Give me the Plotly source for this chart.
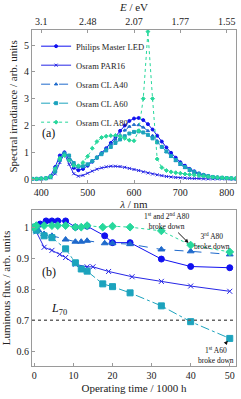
import plotly.graph_objects as go

# ---------------- data: spectra (top panel) ----------------
wavelength_nm = [380, 390, 400, 410, 420, 430, 440, 450, 460, 470, 480, 490, 500, 510, 520,
                 530, 540, 550, 560, 570, 580, 590, 600, 610, 620, 630, 640, 650, 660, 670,
                 680, 690, 700, 710, 720, 730, 740, 750, 760, 770, 780, 790, 800, 810, 820]

spec_philips = [0.01, 0.01, 0.02, 0.04, 0.12, 0.45, 0.88, 1.0, 0.72, 0.42, 0.33, 0.38, 0.5, 0.65, 0.8,
                0.97, 1.15, 1.35, 1.58, 1.8, 2.0, 2.17, 2.26, 2.28, 2.2, 2.05, 1.85, 1.62, 1.4, 1.18,
                0.98, 0.8, 0.63, 0.5, 0.38, 0.29, 0.21, 0.16, 0.12, 0.08, 0.06, 0.04, 0.03, 0.02, 0.02]
spec_par16 = [0.01, 0.01, 0.01, 0.02, 0.05, 0.2, 0.62, 0.95, 0.55, 0.2, 0.11, 0.14, 0.22, 0.3, 0.37,
              0.42, 0.46, 0.48, 0.48, 0.47, 0.44, 0.4, 0.36, 0.32, 0.27, 0.23, 0.19, 0.16, 0.13, 0.1,
              0.08, 0.06, 0.05, 0.04, 0.03, 0.02, 0.02, 0.01, 0.01, 0.01, 0.01, 0.01, 0.01, 0.01, 0.01]
spec_a40 = [0.01, 0.01, 0.02, 0.03, 0.08, 0.3, 0.75, 0.98, 0.86, 0.56, 0.45, 0.48, 0.55, 0.68, 0.82,
            0.98, 1.13, 1.3, 1.48, 1.65, 1.82, 1.96, 2.03, 2.02, 1.93, 1.8, 1.62, 1.42, 1.22, 1.02,
            0.84, 0.68, 0.54, 0.42, 0.32, 0.24, 0.18, 0.13, 0.1, 0.07, 0.05, 0.04, 0.03, 0.02, 0.02]
spec_a60 = [0.01, 0.01, 0.02, 0.03, 0.07, 0.28, 0.72, 0.95, 0.88, 0.6, 0.47, 0.48, 0.55, 0.67, 0.8,
            0.93, 1.07, 1.2, 1.35, 1.48, 1.6, 1.7, 1.76, 1.78, 1.74, 1.65, 1.52, 1.37, 1.2, 1.03,
            0.86, 0.71, 0.57, 0.45, 0.35, 0.27, 0.2, 0.15, 0.11, 0.08, 0.06, 0.05, 0.04, 0.03, 0.02]
spec_a80 = [0.01, 0.01, 0.02, 0.03, 0.1, 0.4, 0.78, 0.88, 0.7, 0.5, 0.5, 0.62, 0.85, 1.15, 1.4,
            1.55, 1.6, 1.62, 1.63, 1.6, 1.52, 1.45, 1.43, 1.8, 3.0, 5.5, 3.0, 0.75, 0.43, 0.32,
            0.27, 0.24, 0.22, 0.19, 0.17, 0.15, 0.13, 0.11, 0.09, 0.07, 0.06, 0.05, 0.04, 0.03, 0.03]

# top-axis photon energy labels for the wavelength ticks
wl_ticks = [400, 500, 600, 700, 800]
energy_labels = ["3.1", "2.48", "2.07", "1.77", "1.55"]

# ---------------- data: luminous flux (bottom panel) ----------------
t_philips = [0, 1.5, 3, 4.5, 6, 8, 10.5, 13.5, 18, 20, 24.5, 32.5, 40, 50]
flux_philips = [1.0, 1.01, 1.02, 1.02, 1.02, 1.02, 1.0, 1.003, 0.972, 0.95, 0.95, 0.897, 0.873, 0.869]

t_par16 = [0, 0.5, 2.5, 4.5, 6.5, 8, 10.5, 13.5, 15, 19, 25, 32.5, 40, 50]
flux_par16 = [1.0, 0.985, 0.935, 0.925, 0.912, 0.902, 0.88, 0.872, 0.872, 0.857, 0.84, 0.825, 0.81, 0.793]

t_a40 = [0, 1, 2.5, 4.5, 8, 10.5, 12, 13.5, 18, 20, 24.5, 32.5, 40, 50]
flux_a40 = [1.0, 0.99, 0.978, 0.972, 0.96, 0.953, 0.953, 0.956, 0.948, 0.948, 0.945, 0.928, 0.922, 0.912]

t_a60 = [0, 0.5, 2.5, 4.5, 8, 10.5, 12, 13.5, 17.5, 20, 24.5, 32.5, 40, 50]
flux_a60 = [1.0, 0.99, 0.972, 0.966, 0.93, 0.885, 0.865, 0.858, 0.817, 0.808, 0.788, 0.746, 0.695, 0.641]

t_a80 = [0, 0.5, 2.5, 4.5, 6, 8, 10.5, 12, 13.5, 17.5, 20, 24.5, 32.5, 40, 50]
flux_a80 = [1.0, 1.005, 1.005, 1.005, 1.005, 1.005, 1.0, 1.0, 1.005, 1.0, 1.003, 1.0, 0.988, 0.942, 0.92]

L70 = 0.7

# ---------------- styles ----------------
FONT = "Liberation Serif, Times New Roman, serif"
names = ["Philips Master LED", "Osram PAR16", "Osram CL A40", "Osram CL A60", "Osram CL A80"]
colors = ["#1010f0", "#2626e6", "#1f6acc", "#1ca3bd", "#26d89c"]
dashes = ["solid", "solid", "dash", "dashdot", "dot"]
symbols = ["circle", "x-thin-open", "triangle-up", "square", "diamond"]
spectra = [spec_philips, spec_par16, spec_a40, spec_a60, spec_a80]
flux_t = [t_philips, t_par16, t_a40, t_a60, t_a80]
flux_v = [flux_philips, flux_par16, flux_a40, flux_a60, flux_a80]

fig = go.Figure()

for i in range(5):
    fig.add_trace(go.Scatter(
        x=wavelength_nm, y=spectra[i], name=names[i], mode="lines+markers",
        line=dict(color=colors[i], width=1, dash=dashes[i]),
        marker=dict(symbol=symbols[i], size=3, color=colors[i],
                    line=dict(color=colors[i], width=1)),
        xaxis="x", yaxis="y", showlegend=True))

for i in range(5):
    fig.add_trace(go.Scatter(
        x=flux_t[i], y=flux_v[i], name=names[i], mode="lines+markers",
        line=dict(color=colors[i], width=1, dash=dashes[i]),
        marker=dict(symbol=symbols[i], size=6 if i != 1 else 5, color=colors[i],
                    line=dict(color=colors[i], width=1)),
        xaxis="x2", yaxis="y2", showlegend=False))

axis_common = dict(showgrid=False, zeroline=False, showline=True, linecolor="#9a9a9a",
                   linewidth=1, mirror=True, ticks="inside", ticklen=3, tickcolor="#9a9a9a",
                   tickfont=dict(family=FONT, size=10, color="#222"))

fig.update_layout(
    width=241, height=399,
    margin=dict(l=32, r=5, t=30, b=33),
    paper_bgcolor="white", plot_bgcolor="white",
    font=dict(family=FONT, size=10, color="#222"),
    xaxis=dict(domain=[0, 1], anchor="y", range=[380, 820], tickvals=wl_ticks,
               title=dict(text="<i>λ</i> / nm", font=dict(family=FONT, size=11), standoff=2),
               **axis_common),
    yaxis=dict(domain=[0.545, 1], anchor="x", range=[-0.14, 5.56], tickvals=[0, 1, 2, 3, 4, 5],
               title=dict(text="Spectral irradiance / arb. units", font=dict(family=FONT, size=11),
                          standoff=4),
               **axis_common),
    xaxis3=dict(overlaying="x", anchor="y", side="top", range=[380, 820], tickvals=wl_ticks,
                ticktext=energy_labels,
                title=dict(text="<i>E</i> / eV", font=dict(family=FONT, size=11), standoff=2),
                **{k: v for k, v in axis_common.items() if k != "mirror"}),
    xaxis2=dict(domain=[0, 1], anchor="y2", range=[-0.6, 51.6], tickvals=[0, 10, 20, 30, 40, 50],
                title=dict(text="Operating time / 1000 h", font=dict(family=FONT, size=11), standoff=4),
                **axis_common),
    yaxis2=dict(domain=[0, 0.464], anchor="x2", range=[0.552, 1.055],
                tickvals=[0.6, 0.7, 0.8, 0.9, 1.0], ticktext=["0.6", "0.7", "0.8", "0.9", "1"],
                title=dict(text="Luminous flux / arb. units", font=dict(family=FONT, size=11),
                           standoff=4),
                **axis_common),
    legend=dict(x=0.02, y=0.995, xanchor="left", yanchor="top", bgcolor="rgba(255,255,255,0)",
                font=dict(family=FONT, size=8.5, color="#222"), itemwidth=30,
                tracegroupgap=0),
)

# invisible trace so the top energy axis is drawn
fig.add_trace(go.Scatter(x=[wl_ticks[0], wl_ticks[-1]], y=[0, 0], xaxis="x3", yaxis="y",
                         mode="markers", marker=dict(opacity=0), showlegend=False,
                         hoverinfo="skip"))

# L70 threshold line
fig.add_shape(type="line", xref="x2 domain", yref="y2", x0=0, x1=1, y0=L70, y1=L70,
              line=dict(color="#666", width=1.5, dash="dot"))

ann_font = dict(family=FONT, size=7.5, color="#111")
fig.add_annotation(xref="x2", yref="y2", x=6.3, y=L70, yshift=11, text="<i>L</i><sub>70</sub>",
                   showarrow=False, font=dict(family=FONT, size=12, color="#111"))
fig.add_annotation(xref="x domain", yref="y domain", x=0.04, y=0.27, text="(a)",
                   showarrow=False, xanchor="left", font=dict(family=FONT, size=12, color="#111"))
fig.add_annotation(xref="x2 domain", yref="y2 domain", x=0.04, y=0.6, text="(b)",
                   showarrow=False, xanchor="left", font=dict(family=FONT, size=12, color="#111"))

fig.add_annotation(xref="x2", yref="y2", x=t_a80[-2], y=flux_a80[-2],
                   text="1<sup>st</sup> and 2<sup>nd</sup> A80<br>broke down",
                   showarrow=True, arrowhead=2, arrowsize=0.8, arrowwidth=1, arrowcolor="#111",
                   ax=-24, ay=-24, font=ann_font, standoff=3)
fig.add_annotation(xref="x2", yref="y2", x=t_a80[-1], y=flux_a80[-1],
                   text="3<sup>rd</sup> A80<br>broke down",
                   showarrow=True, arrowhead=2, arrowsize=0.8, arrowwidth=1, arrowcolor="#111",
                   ax=-18, ay=-11, font=ann_font, standoff=3)
fig.add_annotation(xref="x2", yref="y2", x=t_a60[-1], y=flux_a60[-1],
                   text="1<sup>st</sup> A60<br>broke down",
                   showarrow=True, arrowhead=2, arrowsize=0.8, arrowwidth=1, arrowcolor="#111",
                   ax=-14, ay=17, font=ann_font, standoff=3)

fig.write_html("out.html", config={"displayModeBar": False},
               post_script="document.body.style.margin='0';")
